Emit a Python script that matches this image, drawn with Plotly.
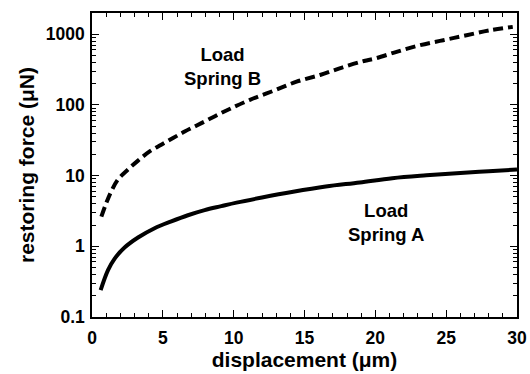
import plotly.graph_objects as go

# Spring A (solid)
xa = [0.61, 1.13, 1.6, 2.3, 3.25, 4.42, 5.6, 6.77, 7.95, 9.13, 10.2, 12.0, 14.2, 16.5, 18.9, 21.2, 23.6, 26.0, 28.0, 30.0]
ya = [0.24, 0.46, 0.67, 0.96, 1.33, 1.8, 2.25, 2.75, 3.25, 3.7, 4.15, 4.9, 5.9, 7.0, 8.0, 9.2, 10.1, 10.9, 11.5, 12.2]

# Spring B (dashed)
xb = [0.66, 1.01, 1.36, 1.83, 2.54, 3.25, 4.07, 4.89, 5.72, 6.54, 7.36, 8.19, 9.0, 9.83, 11.15, 12.8, 14.44, 16.1, 17.7, 19.2, 20.0, 21.5, 23.15, 24.8, 26.44, 28.1, 29.7]
yb = [2.63, 4.1, 6.0, 8.8, 12.2, 16.3, 22.0, 27.4, 34.0, 42.0, 50.8, 61.6, 74.7, 89.8, 118, 158, 213, 265, 340, 418, 455, 563, 700, 823, 968, 1138, 1270]

yticks = [0.1, 1, 10, 100, 1000]
yticklabels = ["0.1", "1", "10", "100", "1000"]
xticks = [0, 5, 10, 15, 20, 25, 30]

yminor = [m * 10.0 ** e for e in range(-1, 4) for m in range(2, 10) if m * 10.0 ** e < 2000]

fnt = "Liberation Sans, Arial, sans-serif"

fig = go.Figure()
fig.add_trace(go.Scatter(x=xa, y=ya, mode="lines", line=dict(color="black", width=4, shape="spline"), showlegend=False))
fig.add_trace(go.Scatter(x=xb, y=yb, mode="lines", line=dict(color="black", width=4, dash="10px,5px", shape="spline"), showlegend=False))

fig.add_annotation(x=9.2, y=2.55, xref="x", yref="y", text="<b>Load<br>Spring B</b>", showarrow=False,
                   font=dict(family=fnt, size=18.5, color="black"), align="center")
fig.add_annotation(x=20.75, y=0.34, xref="x", yref="y", text="<b>Load<br>Spring A</b>", showarrow=False,
                   font=dict(family=fnt, size=18.5, color="black"), align="center")

fig.update_layout(
    width=530, height=374,
    margin=dict(l=92, r=13, t=13, b=57),
    paper_bgcolor="white", plot_bgcolor="white",
    font=dict(family=fnt, color="black"),
)

fig.update_xaxes(
    range=[0, 30], tickvals=xticks, ticks="inside", ticklen=7, tickwidth=1.2, tickcolor="black",
    showline=True, linecolor="black", linewidth=1.5, mirror="allticks", showgrid=False, zeroline=False,
    automargin=False,
    tickfont=dict(family=fnt, size=17.5, color="black", weight="bold"), ticklabelstandoff=4,
    minor=dict(dtick=1, ticks="inside", ticklen=4, tickwidth=1, tickcolor="black", showgrid=False),
    title=dict(text="<b>displacement (μm)</b>", font=dict(family=fnt, size=21, color="black"), standoff=6),
)
fig.update_yaxes(
    type="log", range=[-1, 3.3], tickvals=yticks, ticktext=yticklabels, ticks="inside", ticklen=7, tickwidth=1.2,
    tickcolor="black", showline=True, linecolor="black", linewidth=1.5, mirror="allticks", showgrid=False,
    zeroline=False, automargin=False,
    tickfont=dict(family=fnt, size=17.5, color="black", weight="bold"), ticklabelstandoff=2,
    minor=dict(tickmode="array", tickvals=yminor, ticks="inside", ticklen=4, tickwidth=1, tickcolor="black", showgrid=False),
    title=dict(text="<b>restoring force (μN)</b>", font=dict(family=fnt, size=21, color="black"), standoff=5),
)

fig.write_html("out.html")
